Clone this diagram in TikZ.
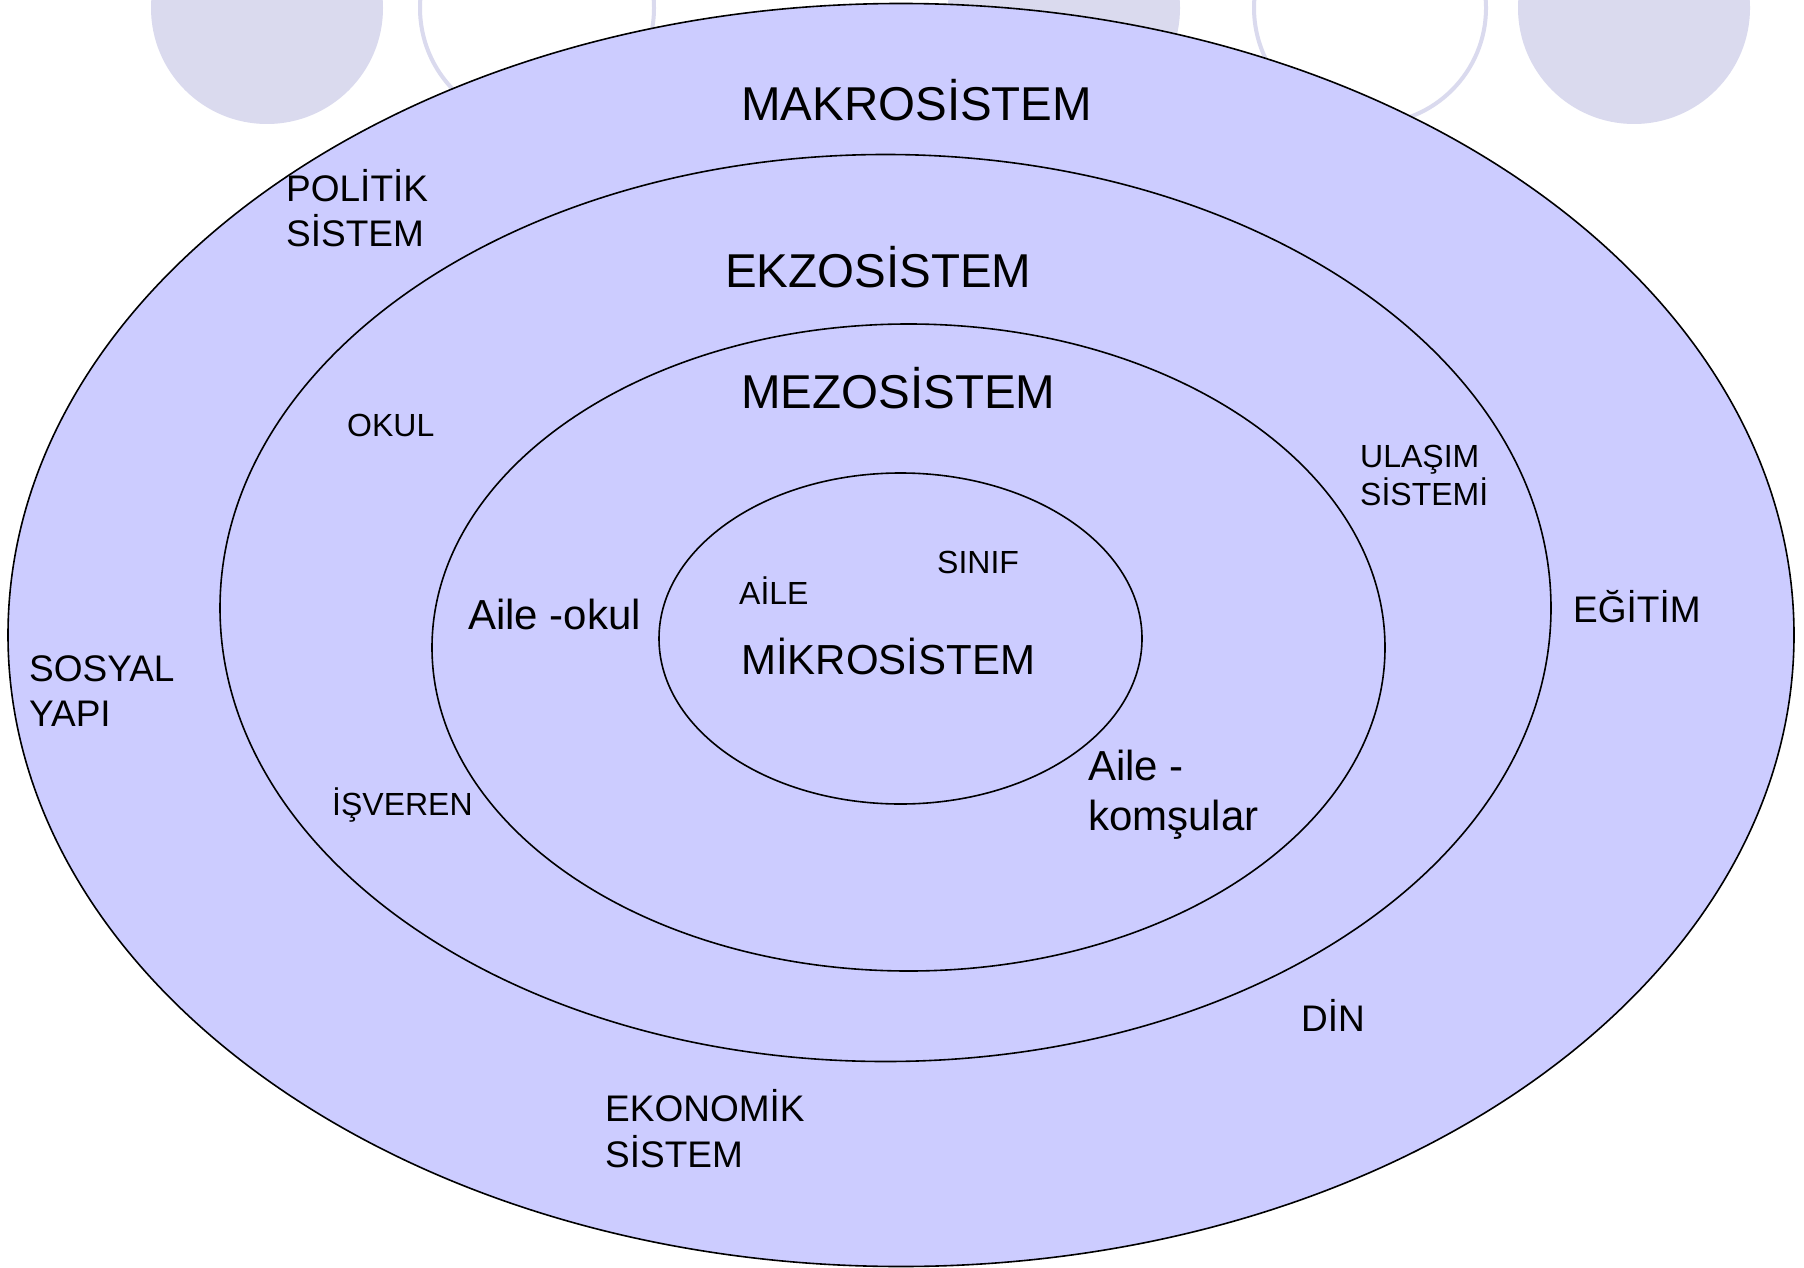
\documentclass[tikz,border=0pt]{standalone}
\usepackage{fontspec}
\setmainfont{Liberation Sans}
\definecolor{ringfill}{HTML}{CCCCFF}
\definecolor{decocol}{HTML}{DADAEE}
\begin{document}
\begin{tikzpicture}[x=1pt,y=-1pt,
  ring/.style={draw=black, line width=1.6pt, fill=ringfill},
  decodisc/.style={fill=decocol},
  decoring/.style={draw=decocol, line width=4pt},
  lbl/.style={inner sep=0pt, anchor=base west, align=left, text=black},
  tA/.style={lbl, font=\fontsize{47.5}{57}\selectfont},
  tB/.style={lbl, font=\fontsize{42}{50}\selectfont},
  tC/.style={lbl, font=\fontsize{37}{45.5}\selectfont},
  tD/.style={lbl, font=\fontsize{32}{38}\selectfont}]
\useasboundingbox (0,0) rectangle (1804,1268);
\clip (0,0) rectangle (1804,1268);
\fill[white] (0,0) rectangle (1804,1268);
% background decoration
\fill[decodisc] (267,8) circle [radius=116pt];
\fill[decodisc] (1064,8) circle [radius=116pt];
\fill[decodisc] (1634,8) circle [radius=116pt];
\draw[decoring] (537,8) circle [radius=117pt];
\draw[decoring] (1370,8) circle [radius=116pt];
% nested systems
\draw[ring] (901,635) ellipse [x radius=893pt, y radius=631.5pt];
\draw[ring] (885.5,608) ellipse [x radius=665.5pt, y radius=453.5pt];
\draw[ring] (908.5,647.5) ellipse [x radius=476.5pt, y radius=323.5pt];
\draw[ring] (900.5,638.5) ellipse [x radius=241.5pt, y radius=165.5pt];
% labels (multi-line labels are placed by the baseline of their last line)
\node[tA] (makro) at (741,120.7) {MAKROSİSTEM};
\node[tA] (ekzo) at (725,287) {EKZOSİSTEM};
\node[tA] (mezo) at (741,408) {MEZOSİSTEM};
\node[tB] (mikro) at (741,674) {MİKROSİSTEM};
\node[tB] (aileokul) at (468,629) {Aile -okul};
\node[tB] (ailekom) at (1088,830) {Aile -\\komşular};
\node[tC] (politik) at (286,246.7) {POLİTİK\\SİSTEM};
\node[tC] (sosyal) at (29,726.7) {SOSYAL\\YAPI};
\node[tC] (egitim) at (1573,622.7) {EĞİTİM};
\node[tC] (din) at (1301,1031) {DİN};
\node[tC] (ekonomik) at (605,1167) {EKONOMİK\\SİSTEM};
\node[tD] (okul) at (347,436.7) {OKUL};
\node[tD] (ulasim) at (1360,505.7) {ULAŞIM\\SİSTEMİ};
\node[tD] (aile) at (739,604) {AİLE};
\node[tD] (sinif) at (937,573) {SINIF};
\node[tD] (isveren) at (332,815.7) {İŞVEREN};
\end{tikzpicture}
\end{document}
